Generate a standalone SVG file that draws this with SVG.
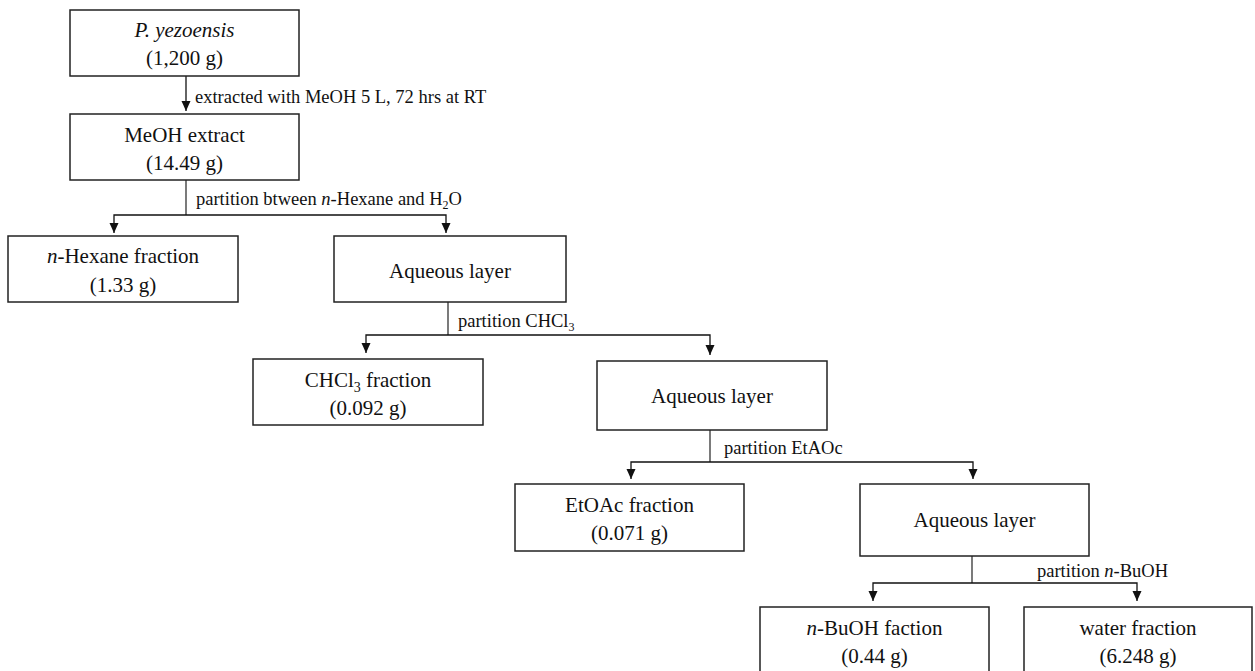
<svg xmlns="http://www.w3.org/2000/svg" width="1255" height="671" viewBox="0 0 1255 671">
<defs>
<marker id="ah" markerUnits="userSpaceOnUse" markerWidth="11" markerHeight="10" refX="10" refY="5" orient="auto" viewBox="0 0 11 10">
<path d="M0,0.5 L10,5 L0,9.5 Z" fill="#111"/>
</marker>
<style>
.box{fill:#fff;stroke:#222;stroke-width:1.5}
.t{font-family:"Liberation Serif","Times New Roman",serif;font-size:21px;fill:#111;text-anchor:middle}
.l{font-family:"Liberation Serif","Times New Roman",serif;font-size:18.5px;fill:#111}
.c{fill:none;stroke:#333;stroke-width:1.3}
.a{fill:none;stroke:#111;stroke-width:1.3;marker-end:url(#ah)}
</style>
</defs>
<rect width="1255" height="671" fill="#fff"/>
<g id="connectors">
<line class="a" x1="186" y1="76" x2="186" y2="111"/>
<text class="l" x="195" y="103">extracted with MeOH 5 L, 72 hrs at RT</text>
<polyline class="c" points="186,180 186,215"/>
<polyline class="a" points="186,215 114,215 114,233"/>
<polyline class="a" points="186,215 446,215 446,233"/>
<text class="l" x="196" y="205">partition btween <tspan font-style="italic">n</tspan>-Hexane and H<tspan font-size="12" dy="4">2</tspan><tspan dy="-4">O</tspan></text>
<polyline class="c" points="448,302 448,335"/>
<polyline class="a" points="448,335 366,335 366,353"/>
<polyline class="a" points="448,335 710,335 710,355"/>
<text class="l" x="458" y="327">partition CHCl<tspan font-size="12" dy="4">3</tspan></text>
<polyline class="c" points="710,430 710,462"/>
<polyline class="a" points="710,462 631,462 631,479"/>
<polyline class="a" points="710,462 973,462 973,479"/>
<text class="l" x="724" y="454">partition EtAOc</text>
<polyline class="c" points="972,556 972,583"/>
<polyline class="a" points="972,583 873,583 873,601"/>
<polyline class="a" points="972,583 1137,583 1137,601"/>
<text class="l" x="1037" y="577">partition <tspan font-style="italic">n</tspan>-BuOH</text>
</g>
<g id="n1">
<rect class="box" x="70" y="10" width="229" height="66"/>
<text class="t" x="184.5" y="37" font-style="italic">P. yezoensis</text>
<text class="t" x="184.5" y="65">(1,200 g)</text>
</g>
<g id="n2">
<rect class="box" x="70" y="114" width="229" height="66"/>
<text class="t" x="184.5" y="142">MeOH extract</text>
<text class="t" x="184.5" y="170">(14.49 g)</text>
</g>
<g id="n3">
<rect class="box" x="8" y="236" width="230" height="66"/>
<text class="t" x="123" y="263"><tspan font-style="italic">n</tspan>-Hexane fraction</text>
<text class="t" x="123" y="292">(1.33 g)</text>
</g>
<g id="n4">
<rect class="box" x="334" y="236" width="232" height="66"/>
<text class="t" x="450" y="278">Aqueous layer</text>
</g>
<g id="n5">
<rect class="box" x="253" y="359" width="230" height="66"/>
<text class="t" x="368" y="387">CHCl<tspan font-size="14" dy="5">3</tspan><tspan dy="-5"> fraction</tspan></text>
<text class="t" x="368" y="415">(0.092 g)</text>
</g>
<g id="n6">
<rect class="box" x="597" y="361" width="230" height="69"/>
<text class="t" x="712" y="403">Aqueous layer</text>
</g>
<g id="n7">
<rect class="box" x="515" y="484" width="229" height="67"/>
<text class="t" x="629.5" y="512">EtOAc fraction</text>
<text class="t" x="629.5" y="540">(0.071 g)</text>
</g>
<g id="n8">
<rect class="box" x="860" y="484" width="229" height="72"/>
<text class="t" x="974.5" y="527">Aqueous layer</text>
</g>
<g id="n9">
<rect class="box" x="760" y="607" width="229" height="70"/>
<text class="t" x="874.5" y="635"><tspan font-style="italic">n</tspan>-BuOH faction</text>
<text class="t" x="874.5" y="663">(0.44 g)</text>
</g>
<g id="n10">
<rect class="box" x="1024" y="607" width="228" height="70"/>
<text class="t" x="1138" y="635">water fraction</text>
<text class="t" x="1138" y="663">(6.248 g)</text>
</g>
</svg>
